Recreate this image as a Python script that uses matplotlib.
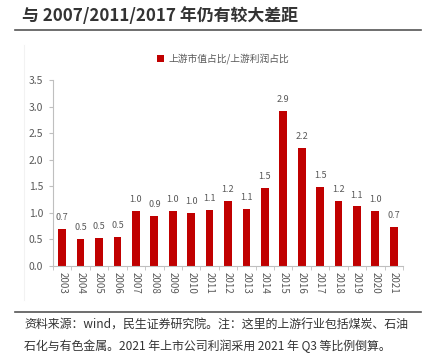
import matplotlib.pyplot as plt
from matplotlib.lines import Line2D

plt.rcParams['font.family'] = ['Noto Sans CJK SC', 'DejaVu Sans']

years = ['2003', '2004', '2005', '2006', '2007', '2008', '2009', '2010', '2011', '2012',
         '2013', '2014', '2015', '2016', '2017', '2018', '2019', '2020', '2021']
ratio = [0.69, 0.51, 0.53, 0.54, 1.04, 0.94, 1.04, 1.00, 1.06, 1.23,
         1.07, 1.47, 2.92, 2.22, 1.48, 1.22, 1.12, 1.04, 0.74]
yticks = [0.0, 0.5, 1.0, 1.5, 2.0, 2.5, 3.0, 3.5]

red = '#C00000'
grey = '#595959'

fig = plt.figure(figsize=(4.3, 3.62), dpi=100)
ax = fig.add_axes([53 / 430, 1 - 266 / 362, 350 / 430, 186 / 362])

x = list(range(len(years)))
bars = ax.bar(x, ratio, width=0.42, color=red, label='上游市值占比/上游利润占比')
for xi, v in zip(x, ratio):
    ax.annotate(f'{v:.1f}', (xi, v), xytext=(0, 5), textcoords='offset points',
                ha='center', va='bottom', fontsize=6.5, color=grey)

ax.set_xlim(-0.5, len(years) - 0.5)
ax.set_ylim(0, 3.5)
ax.set_yticks(yticks)
ax.set_yticklabels([f'{t:.1f}' for t in yticks], fontsize=7.5, color=grey)
ax.set_xticks(x)
ax.set_xticklabels(years, rotation=270, fontsize=7, color=grey)
ax.set_xticks([i - 0.5 for i in range(len(years) + 1)], minor=True)
ax.tick_params(axis='x', which='major', length=0, pad=4)
ax.tick_params(axis='x', which='minor', length=3, color='#bfbfbf')
ax.tick_params(axis='y', length=3, color='#bfbfbf', pad=4)
for s in ['top', 'right']:
    ax.spines[s].set_visible(False)
for s in ['left', 'bottom']:
    ax.spines[s].set_color('#bfbfbf')
    ax.spines[s].set_linewidth(0.8)

leg = ax.legend(loc='center', bbox_to_anchor=(0.486, 1.113), frameon=False,
                fontsize=7, handlelength=0.7, handleheight=0.7, handletextpad=0.4)
for t in leg.get_texts():
    t.set_color(grey)

fig.text(22 / 430, 1 - 16 / 362, '与 2007/2011/2017 年仍有较大差距', fontsize=12.2,
         fontweight='bold', color='#333333', va='center', ha='left')
fig.add_artist(Line2D([15 / 430, 421 / 430], [1 - 30 / 362] * 2, color='#555555', lw=1.2))
fig.add_artist(Line2D([15 / 430, 421 / 430], [1 - 312 / 362] * 2, color='#555555', lw=1.2))
fig.add_artist(Line2D([24 / 430, 24 / 430], [1 - 300 / 362, 1 - 45 / 362], color='#f2f2f2', lw=0.8))

fig.text(24 / 430, 1 - 325 / 362, '资料来源：wind，民生证券研究院。注：这里的上游行业包括煤炭、石油',
         fontsize=8.6, color='#333333', va='center', ha='left')
fig.text(24 / 430, 1 - 346 / 362, '石化与有色金属。2021 年上市公司利润采用 2021 年 Q3 等比例倒算。',
         fontsize=8.6, color='#333333', va='center', ha='left')

fig.savefig('out.png', dpi=100)
